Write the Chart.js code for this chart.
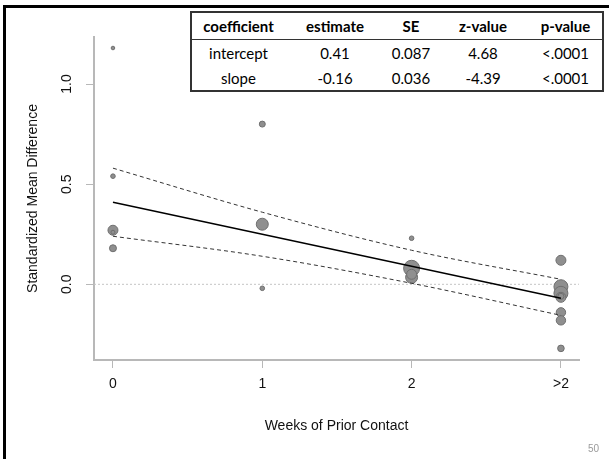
<!DOCTYPE html>
<html>
<head>
<meta charset="utf-8">
<script src="https://cdn.jsdelivr.net/npm/chart.js@4.4.1/dist/chart.umd.min.js"></script>
<style>
  html, body { margin: 0; padding: 0; background: #fff; }
  #wrap { position: relative; width: 609px; height: 459px; overflow: hidden; }
  #graph { position: absolute; left: 0; top: 0; }
  #frame { position: absolute; left: 3px; top: 5px; width: 640px; height: 480px;
           border-top: 3px solid #000; border-left: 3px solid #000; }
  #coef { position: absolute; left: 190px; top: 11px; border-collapse: collapse;
          border: 2px solid #333; background: #fff; table-layout: fixed;
          font-family: Lato, "Open Sans", sans-serif; font-size: 15px; color: #000; }
  #coef th, #coef td { padding: 0; text-align: center; white-space: nowrap; }
  #coef th { height: 26px; font-weight: bold; border-bottom: 1px solid #333; }
  #coef td { height: 25px; }
  #page { position: absolute; left: 588px; top: 443px; font-family: "Liberation Sans", Arial, sans-serif;
          font-size: 10px; color: #9a9a9a; }
</style>
</head>
<body>
<div id="wrap">
  <canvas id="graph" width="609" height="459"></canvas>
  <div id="frame"></div>
  <table id="coef">
    <colgroup><col style="width:94px"><col style="width:100px"><col style="width:52px"><col style="width:92px"><col style="width:74px"></colgroup>
    <thead><tr><th>coefficient</th><th>estimate</th><th>SE</th><th>z-value</th><th>p-value</th></tr></thead>
    <tbody>
      <tr><td>intercept</td><td>0.41</td><td>0.087</td><td>4.68</td><td>&lt;.0001</td></tr>
      <tr><td>slope</td><td>-0.16</td><td>0.036</td><td>-4.39</td><td>&lt;.0001</td></tr>
    </tbody>
  </table>
  <div id="page">50</div>
</div>
<script>
var ctx = document.getElementById('graph');

// axis ticks (">2" coded as 3)
var weekTicks = [0, 1, 2, 3];
var weekLabels = ['0', '1', '2', '>2'];
var smdTicks = [0, 0.5, 1.0];
var smdLabels = ['0.0', '0.5', '1.0'];

// studies: week group, effect size, weight (marker radius)
var studyWeek   = [0, 0, 0, 0, 0, 1, 1, 1, 2, 2, 2, 2, 3, 3, 3, 3, 3, 3, 3, 3];
var studySmd    = [1.18, 0.54, 0.27, 0.26, 0.18, 0.80, 0.30, -0.02, 0.23, 0.08, 0.035, 0.05,
                   0.12, -0.012, -0.045, -0.065, -0.06, -0.14, -0.18, -0.32];
var studyWeight = [1.8, 2.3, 5, 2, 3.5, 3, 6, 2.3, 2.3, 8, 6, 5,
                   5, 7, 7, 5, 3, 4.7, 4.7, 3.3];

// meta-regression line and confidence band
var fitWeek = [0, 3];
var fitSmd = [0.41, -0.07];
var bandWeek = [0, 1, 2, 3];
var bandUpper = [0.58, 0.36, 0.17, 0.025];
var bandLower = [0.24, 0.14, 0.005, -0.155];

var xRange = [-0.127, 3.121];
var yRange = [-0.378, 1.235];

function pts(xs, ys) {
  return xs.map(function (x, i) { return { x: x, y: ys[i] }; });
}

var axisFont = { family: '"Liberation Sans", Arial, sans-serif', size: 14 };
var axisGrey = '#b8b8b8';

var config = {
  type: 'scatter',
  data: {
    datasets: [{
      label: 'studies',
      data: pts(studyWeek, studySmd),
      pointRadius: studyWeight,
      backgroundColor: '#8f8f8f',
      borderColor: '#6f6f6f',
      borderWidth: 1,
      order: 3
    }, {
      label: 'zero',
      type: 'line',
      data: pts(xRange, [0, 0]),
      borderColor: '#c4c4c4',
      borderWidth: 1,
      borderDash: [2, 2],
      pointRadius: 0,
      order: 4
    }, {
      label: 'upper',
      type: 'line',
      data: pts(bandWeek, bandUpper),
      borderColor: '#333',
      borderWidth: 1,
      borderDash: [4, 3],
      cubicInterpolationMode: 'monotone',
      pointRadius: 0,
      order: 2
    }, {
      label: 'lower',
      type: 'line',
      data: pts(bandWeek, bandLower),
      borderColor: '#333',
      borderWidth: 1,
      borderDash: [4, 3],
      cubicInterpolationMode: 'monotone',
      pointRadius: 0,
      order: 2
    }, {
      label: 'fit',
      type: 'line',
      data: pts(fitWeek, fitSmd),
      borderColor: '#000',
      borderWidth: 1.5,
      pointRadius: 0,
      order: 1
    }]
  },
  options: {
    responsive: false,
    animation: false,
    layout: { padding: { left: 0, top: 37, right: 30, bottom: 0 } },
    plugins: { legend: { display: false }, tooltip: { enabled: false } },
    scales: {
      x: {
        type: 'linear',
        min: xRange[0],
        max: xRange[1],
        afterBuildTicks: function (s) { s.ticks = weekTicks.map(function (v) { return { value: v }; }); },
        afterFit: function (s) { s.height = 99; },
        border: { display: true, color: axisGrey, width: 2 },
        grid: { display: true, drawOnChartArea: false, drawTicks: true, tickLength: 8, color: axisGrey, lineWidth: 1 },
        ticks: {
          padding: 8, color: '#111', font: axisFont, maxRotation: 0,
          callback: function (v, i) { return weekLabels[i]; }
        },
        title: { display: true, text: 'Weeks of Prior Contact', color: '#111', font: axisFont, padding: { top: 0, bottom: 24 } }
      },
      y: {
        type: 'linear',
        min: yRange[0],
        max: yRange[1],
        afterBuildTicks: function (s) { s.ticks = smdTicks.map(function (v) { return { value: v }; }); },
        afterFit: function (s) { s.width = 94; },
        border: { display: true, color: axisGrey, width: 2 },
        grid: { display: true, drawOnChartArea: false, drawTicks: true, tickLength: 8, color: axisGrey, lineWidth: 1 },
        ticks: {
          minRotation: 90, maxRotation: 90, crossAlign: 'center', padding: 9,
          color: '#111', font: axisFont,
          callback: function (v, i) { return smdLabels[i]; }
        },
        title: { display: true, text: 'Standardized Mean Difference', color: '#111', font: axisFont, padding: { top: 25, bottom: 0 } }
      }
    }
  }
};

var myChart = new Chart(ctx, config);
</script>
</body>
</html>
